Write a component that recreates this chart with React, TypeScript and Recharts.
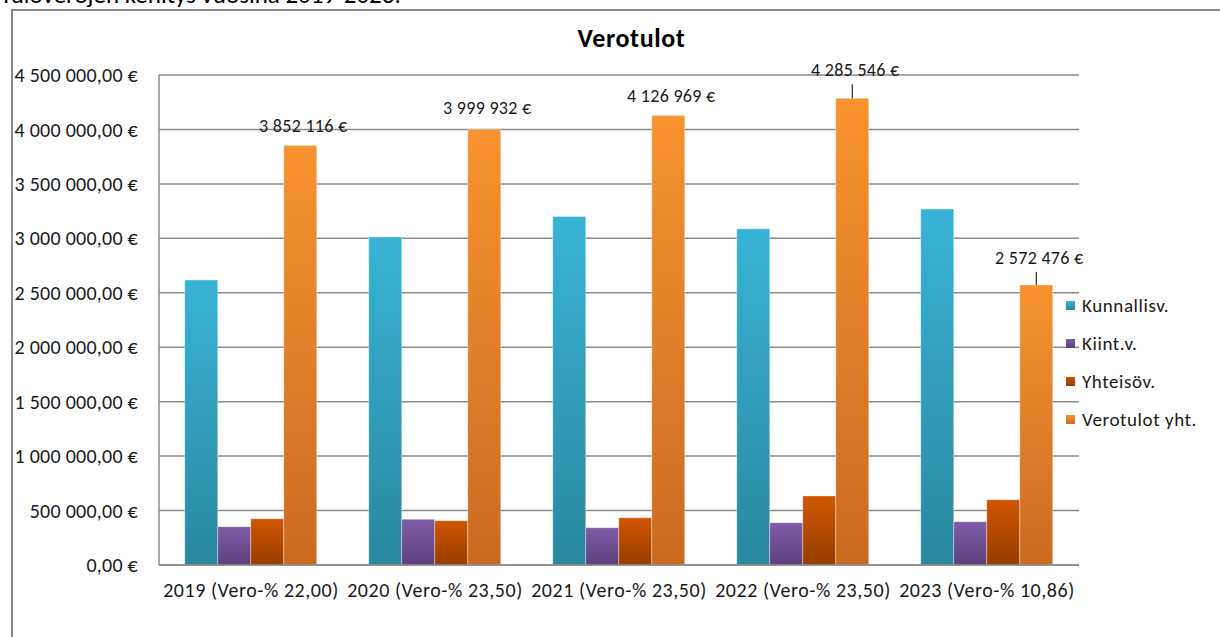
import React from 'react';
import { BarChart, Bar, XAxis, YAxis, CartesianGrid, Legend, LabelList } from 'recharts';

const categories = [
  '2019 (Vero-% 22,00)',
  '2020 (Vero-% 23,50)',
  '2021 (Vero-% 23,50)',
  '2022 (Vero-% 23,50)',
  '2023 (Vero-% 10,86)',
];
const kunnallisv = [2617000, 3012000, 3200000, 3087000, 3269000];
const kiintv = [352000, 420000, 343000, 388000, 398000];
const yhteisov = [425000, 407000, 434000, 634000, 600000];
const verotulotYht = [3852116, 3999932, 4126969, 4285546, 2572476];
const yTicks = [0, 500000, 1000000, 1500000, 2000000, 2500000, 3000000, 3500000, 4000000, 4500000];
const seriesNames = ['Kunnallisv.', 'Kiint.v.', 'Yhteisöv.', 'Verotulot yht.'];

// label styling (lift above bar top in px, leader line)
const labelLift = [20, 21, 20, 28, 27];
const labelLeader = [false, false, false, true, true];

const FONT = 'Carlito, Calibri, Lato, sans-serif';
const gradients = [
  { id: 'gKun', top: '#38b4d6', bottom: '#2a879f' },
  { id: 'gKii', top: '#805ca8', bottom: '#5d3f7d' },
  { id: 'gYht', top: '#d15600', bottom: '#963c00' },
  { id: 'gVer', top: '#f9932f', bottom: '#ca6a22' },
];
const keys = ['kun', 'kii', 'yht', 'ver'];

const data = categories.map((c, i) => ({
  name: c,
  kun: kunnallisv[i],
  kii: kiintv[i],
  yht: yhteisov[i],
  ver: verotulotYht[i],
}));

const groupThousands = (s: string) => s.replace(/\B(?=(\d{3})+(?!\d))/g, ' ');
const fmtAxis = (v: number) => {
  const [int, dec] = v.toFixed(2).split('.');
  return `${groupThousands(int)},${dec} €`;
};
const fmtLabel = (v: number) => `${groupThousands(Math.round(v).toString())} €`;

const renderLabel = (props: any) => {
  const { x, y, width, value, index } = props;
  const cx = Number(x) + Number(width) / 2;
  const top = Number(y);
  const lift = labelLift[index] ?? 20;
  const cy = top - lift;
  return (
    <g>
      {labelLeader[index] && (
        <line x1={cx} x2={cx} y1={cy + 14} y2={top} stroke="#000" strokeWidth={1} />
      )}
      <text
        x={cx + 3}
        y={cy}
        textAnchor="middle"
        dominantBaseline="central"
        fontSize={18}
        letterSpacing={0.3}
        fontFamily={FONT}
        fill="#1a1a1a"
      >
        {fmtLabel(Number(value))}
      </text>
    </g>
  );
};

const renderLegend = () => (
  <div style={{ fontFamily: FONT, fontSize: 19, letterSpacing: 0.6, color: '#1a1a1a' }}>
    {seriesNames.map((n, i) => (
      <div key={n} style={{ display: 'flex', alignItems: 'center', height: 38 }}>
        <div
          style={{
            width: 9,
            height: 9,
            marginRight: 7,
            background: `linear-gradient(${gradients[i].top}, ${gradients[i].bottom})`,
          }}
        />
        <span>{n}</span>
      </div>
    ))}
  </div>
);

export default function App() {
  return (
    <div
      style={{
        position: 'absolute',
        left: 0,
        top: 0,
        width: 1220,
        height: 637,
        overflow: 'hidden',
        background: '#fff',
        fontFamily: FONT,
      }}
    >
      <div
        style={{
          position: 'absolute',
          left: 0,
          top: -18,
          fontSize: 25,
          lineHeight: '25px',
          color: '#000',
          whiteSpace: 'nowrap',
        }}
      >
        Tuloverojen kehitys vuosina 2019-2023.
      </div>
      <div
        style={{
          position: 'absolute',
          left: 11,
          top: 9,
          width: 1300,
          height: 700,
          border: '2px solid #8a8a8a',
        }}
      />
      <div
        style={{
          position: 'absolute',
          left: 0,
          width: 1263,
          top: 22,
          textAlign: 'center',
          fontWeight: 'bold',
          fontSize: 26,
          letterSpacing: 0.6,
          color: '#000',
        }}
      >
        Verotulot
      </div>
      <div style={{ position: 'absolute', left: 0, top: 0 }}>
        <BarChart
          width={1220}
          height={637}
          data={data}
          margin={{ top: 75, right: 141, left: 14, bottom: 42 }}
          barCategoryGap="14%"
          barGap={0}
        >
          <defs>
            {gradients.map((g) => (
              <linearGradient key={g.id} id={g.id} x1="0" y1="0" x2="0" y2="1">
                <stop offset="0%" stopColor={g.top} />
                <stop offset="100%" stopColor={g.bottom} />
              </linearGradient>
            ))}
          </defs>
          <CartesianGrid vertical={false} stroke="#8a8a8a" strokeWidth={1.5} />
          <XAxis
            dataKey="name"
            interval={0}
            tickLine={false}
            axisLine={{ stroke: '#8a8a8a', strokeWidth: 1.5 }}
            tick={{ fill: '#1a1a1a', fontSize: 20, letterSpacing: 0.55, fontFamily: FONT }}
            tickMargin={12}
            height={30}
          />
          <YAxis
            domain={[0, 4500000]}
            ticks={yTicks}
            interval={0}
            tickLine={false}
            tickSize={0}
            tickMargin={21}
            axisLine={{ stroke: '#8a8a8a', strokeWidth: 1.5 }}
            tick={{ fill: '#1a1a1a', fontSize: 20, letterSpacing: 0.25, fontFamily: FONT }}
            tickFormatter={fmtAxis}
            width={145}
          />
          <Legend
            layout="vertical"
            align="center"
            verticalAlign="middle"
            content={renderLegend}
            wrapperStyle={{ left: 1066, top: 286, width: 154 }}
          />
          {keys.map((k, i) => (
            <Bar
              key={k}
              dataKey={k}
              name={seriesNames[i]}
              fill={`url(#${gradients[i].id})`}
              stroke="rgba(255,255,255,0.35)"
              strokeWidth={1}
              isAnimationActive={false}
            >
              {k === 'ver' && <LabelList dataKey="ver" content={renderLabel} />}
            </Bar>
          ))}
        </BarChart>
      </div>
    </div>
  );
}
